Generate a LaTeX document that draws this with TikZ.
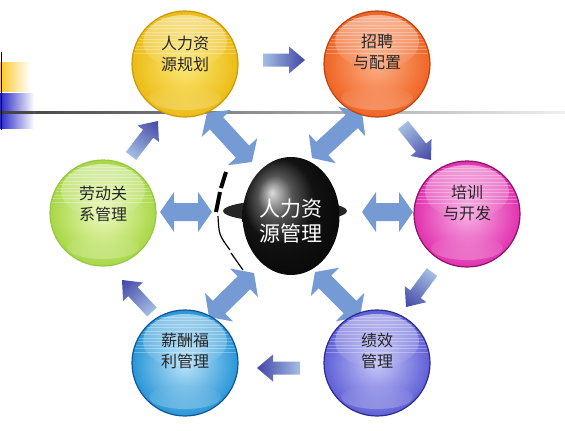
\documentclass[tikz,border=0pt]{standalone}
\usepackage{fontspec}
\newfontfamily\cjk{Noto Sans CJK SC}
\usetikzlibrary{shapes.geometric,fadings}
\definecolor{yin}{RGB}{252,232,120}\definecolor{yout}{RGB}{236,188,20}\definecolor{yedge}{RGB}{200,155,10}
\definecolor{oin}{RGB}{252,175,135}\definecolor{oout}{RGB}{240,100,35}\definecolor{oedge}{RGB}{185,70,20}
\definecolor{min}{RGB}{248,175,228}\definecolor{mout}{RGB}{225,50,175}\definecolor{medge}{RGB}{140,20,105}
\definecolor{pin}{RGB}{200,200,248}\definecolor{pout}{RGB}{95,95,215}\definecolor{pedge}{RGB}{45,45,140}
\definecolor{bin}{RGB}{190,228,250}\definecolor{bout}{RGB}{40,150,215}\definecolor{bedge}{RGB}{20,85,150}
\definecolor{gin}{RGB}{238,250,190}\definecolor{gout}{RGB}{168,215,70}\definecolor{gedge}{RGB}{150,200,70}
\definecolor{slight}{RGB}{165,190,228}\definecolor{sdark}{RGB}{65,70,165}
\definecolor{dend}{RGB}{118,155,212}\definecolor{dmid}{RGB}{235,240,250}
\definecolor{ybar}{RGB}{250,200,40}\definecolor{bbar}{RGB}{40,40,200}
\tikzset{
  ball/.style={circle, minimum size=106pt, inner sep=0pt, line width=1.2pt, shade},
  balltext/.style={align=center, font=\cjk\fontsize{16}{21}\selectfont, text=black!85, inner sep=0pt},
  hubtext/.style={align=center, font=\cjk\fontsize{21}{25}\selectfont, text=white, inner sep=0pt},
}
\newcommand\gloss[1]{%
  \begin{scope}
    \clip (#1.center) circle (52pt);
    \fill[white, opacity=0.5, path fading=south] ([yshift=22pt]#1.center) ellipse (42pt and 27pt);
    \foreach \k in {0,...,10}{\draw[white, opacity=0.3, line width=0.7pt] ([xshift=-60pt, yshift=46pt-\k*3.5pt]#1.center) -- ++(120pt,0pt);}
    \fill[white, opacity=0.25, path fading=north] ([yshift=-34pt]#1.center) ellipse (36pt and 12pt);
  \end{scope}}
\newcommand\getends[2]{%
  \path (#1); \pgfgetlastxy{\ax}{\ay}%
  \path (#2); \pgfgetlastxy{\bx}{\by}%
  \pgfmathsetmacro\aang{atan2((\by)-(\ay),(\bx)-(\ax))}%
  \pgfmathsetmacro\alen{veclen((\bx)-(\ax),(\by)-(\ay))}}
\newcommand\onearrow[2]{%
  \getends{#1}{#2}%
  \pgfmathsetmacro\abase{\alen-16}%
  \begin{scope}[transform canvas={shift={(\ax,\ay)}, rotate=\aang}]
    \shade[left color=slight, right color=sdark] (0pt,-6.5pt) -- (\abase pt,-6.5pt) -- (\abase pt,-13.5pt) -- (\alen pt,0pt) -- (\abase pt,13.5pt) -- (\abase pt,6.5pt) -- (0pt,6.5pt) -- cycle;
  \end{scope}}
\newcommand\twoarrow[2]{%
  \getends{#1}{#2}%
  \pgfmathsetmacro\abase{\alen-14}%
  \begin{scope}[transform canvas={shift={(\ax,\ay)}, rotate=\aang}]
    \shade[left color=dend, middle color=dmid, right color=dend] (0pt,0pt) -- (14pt,20pt) -- (14pt,9pt) -- (\abase pt,9pt) -- (\abase pt,20pt) -- (\alen pt,0pt) -- (\abase pt,-20pt) -- (\abase pt,-9pt) -- (14pt,-9pt) -- (14pt,-20pt) -- cycle;
  \end{scope}}
\begin{document}
\begin{tikzpicture}[x=1pt, y=-1pt]
\useasboundingbox (0,0) rectangle (565,431);
% top-left decoration
\shade[left color=black!75, right color=black!6] (0,111) rectangle (565,113.5);
\shade[left color=ybar, middle color=ybar!90, right color=white] (0,62) rectangle (30,91);
\shade[left color=bbar, middle color=bbar!90, right color=white] (0,93) rectangle (34,128);
\shade[left color=black!75, right color=black!70] (0,111) rectangle (34,113.5);
\draw[line width=1.5pt] (1.5,52) -- (1.5,130);
% arrow end points
\coordinate (s1a) at (263,60);  \coordinate (s1b) at (305,60);
\coordinate (s2a) at (403,125); \coordinate (s2b) at (431,160);
\coordinate (s3a) at (432,272); \coordinate (s3b) at (406,307);
\coordinate (s4a) at (300,368); \coordinate (s4b) at (257,368);
\coordinate (s5a) at (152,312); \coordinate (s5b) at (122,280);
\coordinate (s6a) at (131,156); \coordinate (s6b) at (158,121);
\coordinate (d1a) at (207,113); \coordinate (d1b) at (252,162);
\coordinate (d2a) at (362,112); \coordinate (d2b) at (312,158);
\coordinate (d3a) at (362,212); \coordinate (d3b) at (413,212);
\coordinate (d4a) at (315,272); \coordinate (d4b) at (360,317);
\coordinate (d5a) at (254,273); \coordinate (d5b) at (209,317);
\coordinate (d6a) at (160,212); \coordinate (d6b) at (212,212);
\onearrow{s1a}{s1b}\onearrow{s2a}{s2b}\onearrow{s3a}{s3b}
\onearrow{s4a}{s4b}\onearrow{s5a}{s5b}\onearrow{s6a}{s6b}
\twoarrow{d1a}{d1b}\twoarrow{d2a}{d2b}\twoarrow{d3a}{d3b}
\twoarrow{d4a}{d4b}\twoarrow{d5a}{d5b}\twoarrow{d6a}{d6b}
% balls
\node[ball, draw=yedge, inner color=yin, outer color=yout] (plan) at (185,64) {};
\gloss{plan}
\node[balltext] (plant) at (185,54) {人力资\\源规划};
\node[ball, draw=oedge, inner color=oin, outer color=oout] (recr) at (377,64) {};
\gloss{recr}
\node[balltext] (recrt) at (377,52) {招聘\\与配置};
\node[ball, draw=medge, inner color=min, outer color=mout] (train) at (467,214) {};
\gloss{train}
\node[balltext] (traint) at (467,203) {培训\\与开发};
\node[ball, draw=pedge, inner color=pin, outer color=pout] (perf) at (377,363) {};
\gloss{perf}
\node[balltext] (perft) at (377,351) {绩效\\管理};
\node[ball, draw=bedge, inner color=bin, outer color=bout] (pay) at (185,363) {};
\gloss{pay}
\node[balltext] (payt) at (185,351) {薪酬福\\利管理};
\node[ball, draw=gedge, inner color=gin, outer color=gout] (labor) at (103,213) {};
\gloss{labor}
\node[balltext] (labort) at (103,204) {劳动关\\系管理};
% hub
\fill[black!85] (285,211) ellipse (62 and 11);
\node[ellipse, minimum width=97pt, minimum height=118pt, inner sep=0pt, ball color=black!90] (hub) at (291,216) {};
\node[hubtext] (hubt) at (291,221) {人力资\\源管理};
\draw[line width=4pt] (226,172) -- (221,188);
\draw[line width=4pt] (220,192) -- (216,212);
\draw[line width=1.2pt] (218,216) .. controls (219,235) .. (230,250);
\draw[line width=1.2pt] (231,253) -- (243,270);
\end{tikzpicture}
\end{document}
